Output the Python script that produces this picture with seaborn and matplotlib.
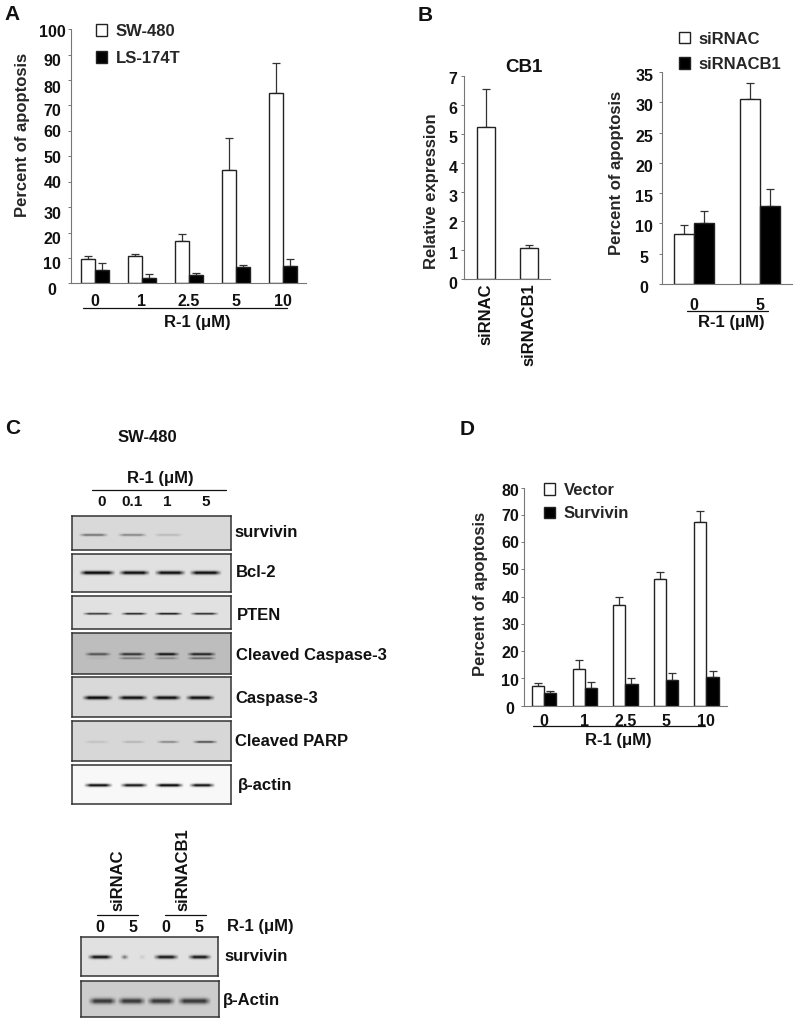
import numpy as np
import pandas as pd
import matplotlib
matplotlib.use("Agg")
import matplotlib.pyplot as plt
import seaborn as sns
from matplotlib.lines import Line2D
from matplotlib.transforms import Affine2D

# ─── Config ─────────────────────────────────────────────
W, H = 800, 1028
DPI = 100
WHITE_BLACK = ["white", "black"]

# ─── Panel A ────────────────────────────────────────────
doses_a = ["0", "1", "2.5", "5", "10"]
sw480 = [9.4, 10.6, 16.7, 44.6, 75.0]
sw480_err = [1.4, 0.9, 2.7, 12.6, 11.6]
ls174t = [5.2, 2.1, 3.1, 6.3, 6.8]
ls174t_err = [2.9, 1.6, 0.8, 0.8, 2.9]
yticks_a = [0, 10, 20, 30, 40, 50, 60, 70, 80, 90, 100]

# ─── Panel B ────────────────────────────────────────────
cb1_groups = ["siRNAC", "siRNACB1"]
cb1_expr = [5.23, 1.08]
cb1_err = [1.31, 0.09]
yticks_cb1 = [0, 1, 2, 3, 4, 5, 6, 7]

doses_b = ["0", "5"]
sirnac = [8.3, 30.5]
sirnac_err = [1.4, 2.7]
sirnacb1 = [10.05, 12.8]
sirnacb1_err = [2.05, 2.85]
yticks_b = [0, 5, 10, 15, 20, 25, 30, 35]

# ─── Panel D ────────────────────────────────────────────
doses_d = ["0", "1", "2.5", "5", "10"]
vector = [7.1, 13.6, 36.8, 46.4, 67.3]
vector_err = [1.1, 3.0, 3.2, 2.5, 4.3]
survivin = [4.5, 6.6, 8.1, 9.3, 10.5]
survivin_err = [0.9, 2.1, 1.9, 2.6, 2.2]
yticks_d = [0, 10, 20, 30, 40, 50, 60, 70, 80]

# ─── Panel C: band darkness per lane (0 = no band) ──────
survivin_bands = [0.45, 0.36, 0.14, 0.0]
bcl2_bands = [0.95, 0.92, 0.92, 0.92]
pten_bands = [0.72, 0.80, 0.85, 0.78]
cleaved_upper_bands = [0.55, 0.72, 0.88, 0.80]
cleaved_lower_bands = [0.05, 0.35, 0.30, 0.45]
caspase_bands = [0.95, 0.92, 0.92, 0.92]
parp_bands = [0.10, 0.16, 0.36, 0.62]
actin_bands = [0.92, 0.88, 0.95, 0.90]
sir_survivin_bands = [0.90, 0.78, 0.18, 0.88, 0.88]
sir_actin_bands = [0.72, 0.72, 0.72, 0.72]

sns.set_theme(style="ticks")
plt.rcParams["font.family"] = ["Liberation Sans", "DejaVu Sans"]
plt.rcParams["font.weight"] = "bold"
plt.rcParams["axes.labelweight"] = "bold"
plt.rcParams["axes.titleweight"] = "bold"
plt.rcParams["axes.unicode_minus"] = False

fig = plt.figure(figsize=(W / DPI, H / DPI), dpi=DPI, facecolor="white")


def new_axes(x0, y_top, x1, y_bottom):
    return fig.add_axes([x0 / W, 1 - y_bottom / H, (x1 - x0) / W, (y_bottom - y_top) / H])


def put_text(x, y, s, size=12, ha="center", rotation=0, va="center"):
    fig.text(x / W, 1 - y / H, s, fontsize=size, ha=ha, va=va, rotation=rotation,
             fontweight="bold", color="#111111")


def put_line(x0, x1, y):
    fig.add_artist(Line2D([x0 / W, x1 / W], [1 - y / H, 1 - y / H], color="#111111", lw=0.9))


def add_error_bars(ax, errors):
    for container, err in zip(ax.containers, errors):
        for bar, e in zip(container, err):
            x = bar.get_x() + bar.get_width() / 2
            ax.errorbar(x, bar.get_height(), yerr=[[0], [e]], color="#333333",
                        elinewidth=0.9, capsize=3.2, capthick=0.9, zorder=1)


def style_axes(ax, xlim, yticks, ymax, label_center, ylabel, label_x, label_y, nudges,
               size=11.5, xtick_pad=7):
    ax.set_xlim(*xlim)
    ax.set_ylim(0, ymax)
    ax.set_yticks(yticks)
    ax.set_xlabel("")
    ax.set_ylabel(ylabel, fontsize=12, va="center")
    ax.yaxis.set_label_coords(label_x / W, 1 - label_y / H, transform=fig.transFigure)
    sns.despine(ax=ax)
    for side in ["left", "bottom"]:
        ax.spines[side].set_color("#777777")
        ax.spines[side].set_linewidth(0.8)
    x0 = ax.get_position().x0 * W
    ax.tick_params(axis="y", length=2, width=0.7, color="#777777", labelsize=size,
                   pad=(x0 - label_center) * 72 / DPI, labelcolor="#111111")
    ax.tick_params(axis="x", length=0, labelsize=size, pad=xtick_pad, labelcolor="#111111")
    for lab, dy in zip(ax.get_yticklabels(), nudges):
        lab.set_ha("center")
        lab.set_transform(lab.get_transform() + Affine2D().translate(0, -dy))


def grouped_bars(ax, cats, name_a, vals_a, name_b, vals_b):
    df = pd.DataFrame({
        "dose": list(cats) * 2,
        "line": [name_a] * len(cats) + [name_b] * len(cats),
        "value": list(vals_a) + list(vals_b),
    })
    sns.barplot(data=df, x="dose", y="value", hue="line", order=cats, palette=WHITE_BLACK,
                width=0.6, edgecolor="#222222", linewidth=1.0, saturation=1, ax=ax, zorder=2)


def place_legend(ax, x, y, spacing):
    ax.legend(frameon=False, loc="upper left", bbox_to_anchor=(x / W, 1 - y / H),
              bbox_transform=fig.transFigure, borderpad=0, borderaxespad=0, fontsize=12,
              handlelength=0.68, handleheight=0.68, handletextpad=0.5, labelspacing=spacing)


# ─── Panel A ────────────────────────────────────────────
ax_a = new_axes(71, 29.3, 306, 283.3)
grouped_bars(ax_a, doses_a, "SW-480", sw480, "LS-174T", ls174t)
add_error_bars(ax_a, [sw480_err, ls174t_err])
style_axes(ax_a, (-0.51, 4.49), yticks_a, 100, 55, "Percent of apoptosis", 23, 135,
           [6, 5.3, 5.7, 6.3, 0, 0.3, -0.3, 4.3, 6.7, 5.3, 1.7], xtick_pad=8)
place_legend(ax_a, 96, 24, 0.72)
put_line(83, 287, 308)
put_text(197, 323, "R-1 (μM)")

# ─── Panel B: CB1 ───────────────────────────────────────
ax_cb = new_axes(464, 76, 550, 279.3)
sns.barplot(x=cb1_groups, y=cb1_expr, order=cb1_groups, color="white", width=0.41,
            edgecolor="#222222", linewidth=1.0, saturation=1, ax=ax_cb, zorder=2)
add_error_bars(ax_cb, [cb1_err])
style_axes(ax_cb, (-0.51, 1.49), yticks_cb1, 7, 456, "Relative expression", 431.7, 191,
           [4, 3, 2, 4.3, 3.7, 3.3, 2.7, 2.3], xtick_pad=3)
ax_cb.tick_params(axis="x", labelsize=12, labelrotation=90)
put_text(524, 67, "CB1", size=13.5)

# ─── Panel B: apoptosis ─────────────────────────────────
ax_b = new_axes(662, 72, 792, 284)
grouped_bars(ax_b, doses_b, "siRNAC", sirnac, "siRNACB1", sirnacb1)
add_error_bars(ax_b, [sirnac_err, sirnacb1_err])
style_axes(ax_b, (-0.485, 1.485), yticks_b, 35, 647, "Percent of apoptosis", 616, 172.7,
           [3] * 8, xtick_pad=10)
place_legend(ax_b, 679, 31.5, 0.62)
put_line(687, 768, 310.7)
put_text(731, 323, "R-1 (μM)")

# ─── Panel D ────────────────────────────────────────────
ax_d = new_axes(524, 487.7, 726.7, 705.7)
grouped_bars(ax_d, doses_d, "Vector", vector, "Survivin", survivin)
add_error_bars(ax_d, [vector_err, survivin_err])
style_axes(ax_d, (-0.5, 4.5), yticks_d, 80, 513, "Percent of apoptosis", 481, 593.7,
           [2, 1.7, 0.7, 0, 0, 0, 0, 0, 2.3], xtick_pad=6)
place_legend(ax_d, 544, 483, 0.5)
put_line(533, 705, 726)
put_text(618, 740.7, "R-1 (μM)")


# ─── Panel C ────────────────────────────────────────────
def draw_blot(box, background, layers, label, label_xy):
    x0, y0, x1, y1 = box
    rows, cols = int(round(y1 - y0)) * 2, int(round(x1 - x0)) * 2
    yy = (np.arange(rows) + 0.5) / 2
    xx = (np.arange(cols) + 0.5) / cols
    img = np.full((rows, cols), float(background))
    for row_frac, sigma, lanes, bands in layers:
        for (center, half), dark in zip(lanes, bands):
            # band fades out over the last few pixels of the lane
            across = np.clip((half - np.abs(xx - center)) * cols / 14.0, 0, 1)
            down = np.exp(-0.5 * ((yy - row_frac * rows / 2) / sigma) ** 2)
            img -= dark * background * np.outer(down, across)
    ax = new_axes(x0, y0, x1, y1)
    sns.heatmap(np.clip(img, 0, 1), cmap="gray", vmin=0, vmax=1, cbar=False,
                xticklabels=False, yticklabels=False, rasterized=True, ax=ax)
    for spine in ax.spines.values():
        spine.set_visible(True)
        spine.set_color("#333333")
        spine.set_linewidth(1.1)
    put_text(label_xy[0], label_xy[1], label, ha="left")


lanes_survivin = [(0.134, 0.095), (0.378, 0.095), (0.605, 0.095), (0.84, 0.09)]
lanes_bcl2 = [(0.158, 0.115), (0.391, 0.101), (0.616, 0.100), (0.839, 0.103)]
lanes_pten = [(0.16, 0.097), (0.39, 0.087), (0.606, 0.091), (0.832, 0.092)]
lanes_clv = [(0.162, 0.087), (0.375, 0.091), (0.594, 0.084), (0.814, 0.094)]
lanes_casp = [(0.16, 0.099), (0.38, 0.098), (0.595, 0.095), (0.805, 0.095)]
lanes_parp = [(0.154, 0.084), (0.385, 0.081), (0.604, 0.077), (0.836, 0.082)]
lanes_actin = [(0.164, 0.092), (0.389, 0.089), (0.61, 0.093), (0.817, 0.084)]
lanes_sir_surv = [(0.14, 0.096), (0.317, 0.032), (0.445, 0.028), (0.62, 0.095), (0.865, 0.09)]
lanes_sir_actin = [(0.155, 0.106), (0.365, 0.106), (0.58, 0.106), (0.82, 0.124)]

draw_blot((72, 516, 231, 550), 0.85, [(0.55, 0.9, lanes_survivin, survivin_bands)],
          "survivin", (234, 532.7))
draw_blot((72, 553.7, 231, 591.7), 0.88, [(0.5, 1.3, lanes_bcl2, bcl2_bands)],
          "Bcl-2", (236, 572.7))
draw_blot((72, 596, 231, 629), 0.88, [(0.53, 0.75, lanes_pten, pten_bands)],
          "PTEN", (236.7, 616))
draw_blot((72, 633, 231, 674), 0.74, [(0.51, 1.0, lanes_clv, cleaved_upper_bands),
                                      (0.61, 0.8, lanes_clv, cleaved_lower_bands)],
          "Cleaved Caspase-3", (236, 655.7))
draw_blot((72, 676.7, 231, 717), 0.85, [(0.525, 1.3, lanes_casp, caspase_bands)],
          "Caspase-3", (235, 698))
draw_blot((72, 721, 231, 761), 0.84, [(0.517, 0.8, lanes_parp, parp_bands)],
          "Cleaved PARP", (235.3, 741.7))
draw_blot((72, 765, 231, 804), 0.97, [(0.513, 1.1, lanes_actin, actin_bands)],
          "β-actin", (237.7, 785.7))
draw_blot((81.3, 936.7, 218, 976), 0.88, [(0.52, 1.3, lanes_sir_surv, sir_survivin_bands)],
          "survivin", (224, 956.7))
draw_blot((81, 981, 219, 1017), 0.80, [(0.55, 2.0, lanes_sir_actin, sir_actin_bands)],
          "β-Actin", (223, 1000))

put_text(147.7, 437, "SW-480")
put_text(160, 478, "R-1 (μM)")
put_line(91.7, 225.7, 489.7)
for x, s in zip([101.7, 132, 167.7, 205.7], ["0", "0.1", "1", "5"]):
    put_text(x, 501.7, s, size=11)

put_text(117.7, 911, "siRNAC", rotation=90, va="bottom")
put_text(183, 911, "siRNACB1", rotation=90, va="bottom")
put_line(96.7, 137.7, 915)
put_line(165, 206, 915)
for x, s in zip([100, 133, 166, 199], ["0", "5", "0", "5"]):
    put_text(x, 927, s, size=11.5)
put_text(226.7, 926, "R-1 (μM)", ha="left")

# ─── Panel letters ──────────────────────────────────────
for x, y, s in [(12.3, 15, "A"), (425, 15.7, "B"), (12.7, 428, "C"), (466.7, 429, "D")]:
    put_text(x, y, s, size=15)

fig.savefig("out.png", dpi=DPI, facecolor="white")
